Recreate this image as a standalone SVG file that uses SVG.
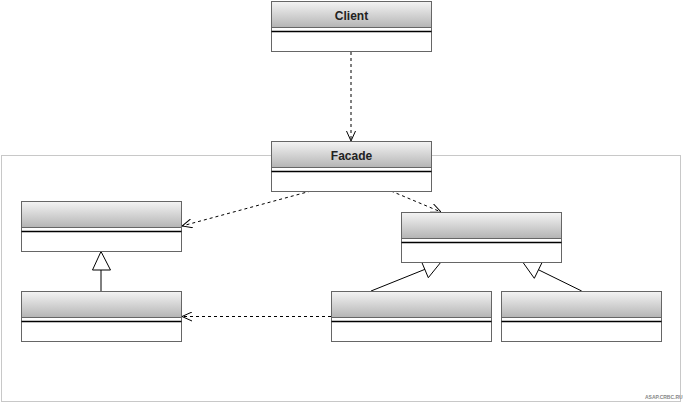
<svg xmlns="http://www.w3.org/2000/svg" width="683" height="403" viewBox="0 0 683 403">
  <defs>
    <linearGradient id="hdr" x1="0" y1="0" x2="0" y2="1">
      <stop offset="0" stop-color="#f4f4f4"/>
      <stop offset="1" stop-color="#b4b4b4"/>
    </linearGradient>
    <marker id="open" viewBox="0 0 10 10" refX="10" refY="5" markerWidth="10" markerHeight="10" markerUnits="userSpaceOnUse" orient="auto">
      <path d="M0,0.5 L10,5 L0,9.5" fill="none" stroke="#000" stroke-width="1"/>
    </marker>
    <!-- class box: header + attribute compartment -->
    <g id="cls">
      <rect x="0" y="0" width="160" height="50" fill="#fff" stroke="#666" stroke-width="1"/>
      <rect x="0" y="0" width="160" height="26" fill="url(#hdr)" stroke="#666" stroke-width="1"/>
      <line x1="0" y1="30" x2="160" y2="30" stroke="#000" stroke-width="1.4"/>
    </g>
  </defs>
  <style>
    .lbl { font-family: "Liberation Sans", Arial, sans-serif; font-size: 12px; font-weight: bold; fill: #222; text-anchor: middle; }
    .dep { fill: none; stroke: #000; stroke-width: 1; stroke-dasharray: 3 3; }
    .gen { fill: none; stroke: #000; stroke-width: 1; }
    .tri { fill: #fff; stroke: #000; stroke-width: 1; }
    .wm { font-family: "Liberation Sans", Arial, sans-serif; font-size: 5px; font-weight: bold; fill: #888; }
  </style>

  <rect width="683" height="403" fill="#fff"/>

  <!-- subsystem frame -->
  <rect id="subsystem" x="1.5" y="155.5" width="679" height="246" fill="none" stroke="#c8c8c8" stroke-width="1"/>

  <!-- connectors -->
  <g id="connectors">
    <line class="dep" x1="351" y1="52" x2="351" y2="141" marker-end="url(#open)"/>
    <line class="dep" x1="311" y1="191" x2="182" y2="226" marker-end="url(#open)"/>
    <line class="dep" x1="391" y1="191" x2="441" y2="212" marker-end="url(#open)"/>
    <line class="dep" x1="331" y1="316.5" x2="182" y2="316.5" marker-end="url(#open)"/>
    <!-- generalizations -->
    <line class="gen" x1="101" y1="291" x2="101" y2="270"/>
    <polygon class="tri" points="101,251.5 92.5,270 110.5,270"/>
    <line class="gen" x1="371" y1="291" x2="425" y2="269.3"/>
    <polygon class="tri" points="421.7,262 441,262 428.3,277.7"/>
    <line class="gen" x1="581.7" y1="291" x2="538.3" y2="269.7"/>
    <polygon class="tri" points="522.7,262 542.3,262 534.3,278.3"/>
  </g>

  <g id="client" transform="translate(271.5,1.5)">
    <use href="#cls"/>
    <text class="lbl" x="80" y="18.5">Client</text>
  </g>
  <g id="facade" transform="translate(271.5,141.5)">
    <use href="#cls"/>
    <text class="lbl" x="80" y="18.5">Facade</text>
  </g>
  <g id="class-a" transform="translate(21.5,201.5)">
    <use href="#cls"/>
  </g>
  <g id="class-a-sub" transform="translate(21.5,291.5)">
    <use href="#cls"/>
  </g>
  <g id="class-b" transform="translate(401.5,212.5)">
    <use href="#cls"/>
  </g>
  <g id="class-b-sub1" transform="translate(331.5,291.5)">
    <use href="#cls"/>
  </g>
  <g id="class-b-sub2" transform="translate(501.5,291.5)">
    <use href="#cls"/>
  </g>

  <text class="wm" x="645" y="399">ASAP.CRBC.RU</text>
</svg>
